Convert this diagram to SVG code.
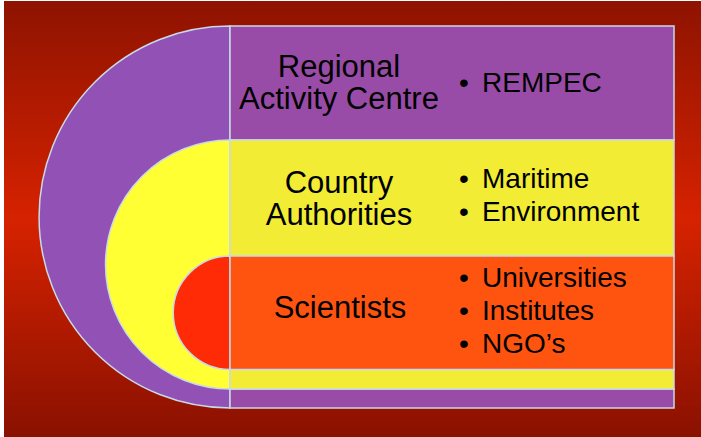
<svg xmlns="http://www.w3.org/2000/svg" width="701" height="437" viewBox="0 0 701 437">
<defs>
<linearGradient id="bg" x1="0" y1="0" x2="0" y2="1">
<stop offset="0" stop-color="#8e1300"/>
<stop offset="0.5" stop-color="#d62200"/>
<stop offset="1" stop-color="#8a1100"/>
</linearGradient>
<style>
.edge{stroke:#c9d9e8;stroke-width:1.5}
.cat{font-family:"Liberation Sans",Arial,sans-serif;font-size:31px;fill:#000;text-anchor:middle}
.item{font-family:"Liberation Sans",Arial,sans-serif;font-size:28px;fill:#000}
</style>
</defs>
<rect x="0" y="0" width="701" height="437" fill="#ffffff"/>
<rect x="4" y="1" width="697" height="436" fill="url(#bg)"/>

<g id="arcs">
<path class="edge" d="M230 26 A191 191 0 0 0 230 408 Z" fill="#9251b4"/>
<path class="edge" d="M230 140 A124.5 124.5 0 0 0 230 389 Z" fill="#ffff33"/>
<path class="edge" d="M230 256 A56.75 56.75 0 0 0 230 369.5 Z" fill="#ff2b06"/>
</g>

<g id="bottom-bands">
<rect class="edge" x="230" y="389" width="444" height="19" fill="#994ca7"/>
<rect class="edge" x="230" y="369.5" width="444" height="19.5" fill="#f2ec34"/>
</g>

<g id="regional">
<rect class="edge" x="230" y="26" width="444" height="114" fill="#994ca7"/>
<text class="cat" x="339" y="77">Regional</text>
<text class="cat" x="339" y="109">Activity Centre</text>
<text class="item" x="459" y="92">•</text>
<text class="item" x="482" y="92">REMPEC</text>
</g>

<g id="country">
<rect class="edge" x="230" y="140" width="444" height="116" fill="#f2ec34"/>
<text class="cat" x="339" y="193">Country</text>
<text class="cat" x="339" y="225">Authorities</text>
<text class="item" x="459" y="188">•</text>
<text class="item" x="482" y="188">Maritime</text>
<text class="item" x="459" y="221">•</text>
<text class="item" x="482" y="221">Environment</text>
</g>

<g id="scientists">
<rect class="edge" x="230" y="256" width="444" height="113.5" fill="#ff5410"/>
<text class="cat" x="340" y="318">Scientists</text>
<text class="item" x="459" y="287">•</text>
<text class="item" x="482" y="287">Universities</text>
<text class="item" x="459" y="320">•</text>
<text class="item" x="482" y="320">Institutes</text>
<text class="item" x="459" y="353">•</text>
<text class="item" x="482" y="353">NGO’s</text>
</g>
</svg>
